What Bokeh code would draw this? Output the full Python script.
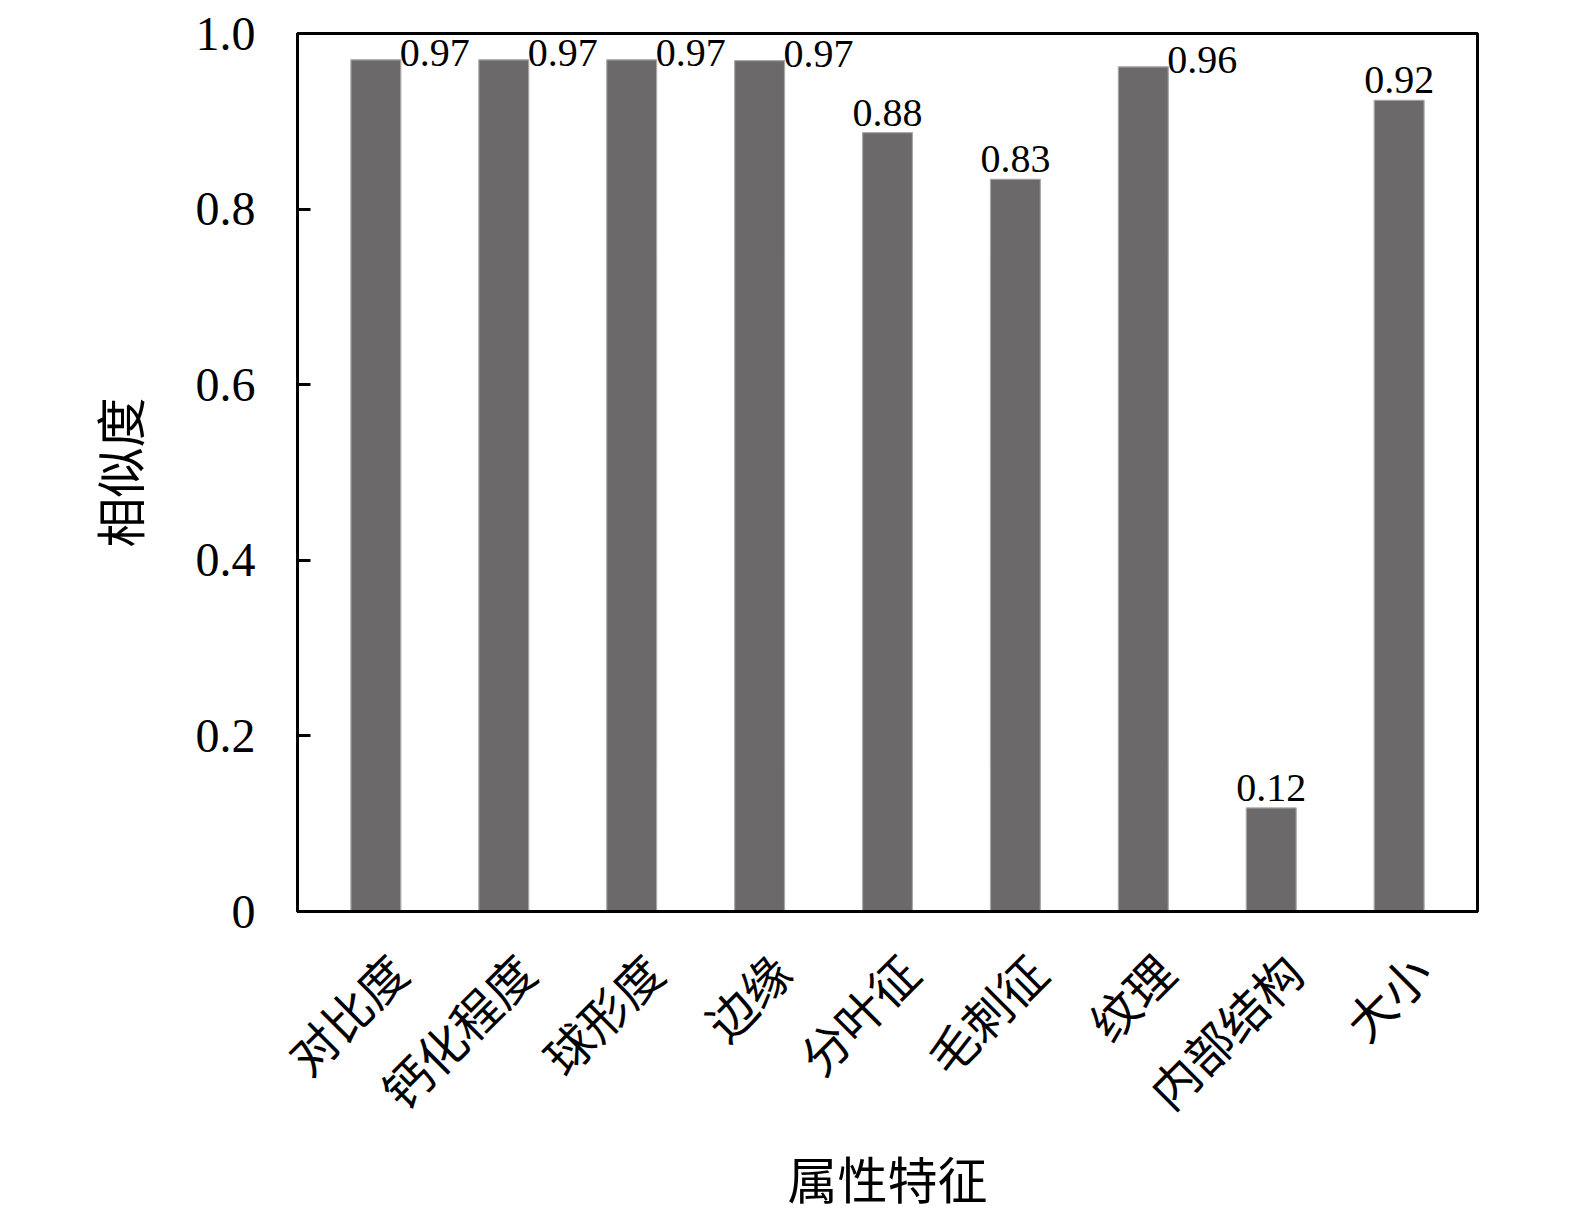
# Similarity per attribute feature, bar chart with value labels

import math

from bokeh.plotting import figure
from bokeh.models import ColumnDataSource, FixedTicker, Range1d
from bokeh.embed import file_html
from bokeh.resources import INLINE
from bokeh.core.properties import value

# data
features = ['对比度', '钙化程度', '球形度', '边缘', '分叶征', '毛刺征', '纹理', '内部结构', '大小']
similarity = [0.970, 0.970, 0.970, 0.969, 0.887, 0.834, 0.962, 0.118, 0.924]
value_labels = ['0.97', '0.97', '0.97', '0.97', '0.88', '0.83', '0.96', '0.12', '0.92']
y_ticks = [0, 0.2, 0.4, 0.6, 0.8, 1.0]
y_tick_labels = ['0', '0.2', '0.4', '0.6', '0.8', '1.0']

# which labels sit beside the bar (right of its top) instead of above it
beside = [True, True, True, True, False, False, True, False, False]

NUM_FONT = 'Liberation Serif'
CJK_FONT = '"Liberation Serif", "Noto Sans CJK SC"'
PAD = 0.1125         # space left of the first / right of the last slot
LABEL_SHIFT = 0.19   # rotated category labels sit a bit right of the bar


def main():
    n = len(features)
    # one slot per category, bar in the middle of its slot
    xs = [i + 0.5 for i in range(n)]

    p = figure(
        x_range=Range1d(-PAD, n + PAD),
        y_range=(0, 1.0),
        frame_width=1180, frame_height=878,
        min_border_left=297, min_border_right=60,
        min_border_top=33, min_border_bottom=295,
        output_backend='svg', toolbar_location=None, tools='',
        x_axis_label='属性特征', y_axis_label='相似度',
    )

    source = ColumnDataSource({'x': xs, 'top': similarity})
    p.vbar(x='x', top='top', width=0.39, bottom=0, source=source,
           fill_color='#6b696a', line_color='#a8a8a8', line_width=1.2)

    # value labels
    side = ColumnDataSource({
        'x': [x for x, b in zip(xs, beside) if b],
        'y': [v for v, b in zip(similarity, beside) if b],
        't': [t for t, b in zip(value_labels, beside) if b],
    })
    above = ColumnDataSource({
        'x': [x for x, b in zip(xs, beside) if not b],
        'y': [v for v, b in zip(similarity, beside) if not b],
        't': [t for t, b in zip(value_labels, beside) if not b],
    })
    p.text(x='x', y='y', text='t', source=side, x_offset=24, y_offset=-7,
           text_align='left', text_baseline='middle',
           text_font=value(NUM_FONT), text_font_size='40px', text_color='black')
    p.text(x='x', y='y', text='t', source=above, y_offset=-20,
           text_align='center', text_baseline='middle',
           text_font=value(NUM_FONT), text_font_size='40px', text_color='black')

    p.xgrid.visible = False
    p.ygrid.visible = False
    p.outline_line_color = 'black'
    p.outline_line_width = 3
    p.outline_line_alpha = 1.0

    yax = p.yaxis[0]
    yax.ticker = FixedTicker(ticks=y_ticks)
    yax.major_label_overrides = dict(zip(y_ticks, y_tick_labels))
    yax.major_tick_in = 13
    yax.major_tick_out = 0
    yax.minor_tick_in = 0
    yax.minor_tick_out = 0
    yax.major_tick_line_width = 3
    yax.major_tick_line_color = 'black'
    yax.axis_line_width = 3
    yax.axis_line_color = 'black'
    yax.major_label_standoff = 42
    yax.major_label_text_font = NUM_FONT
    yax.major_label_text_font_size = '48px'
    yax.major_label_text_color = 'black'
    yax.axis_label_standoff = 42
    yax.axis_label_text_font = CJK_FONT
    yax.axis_label_text_font_size = '50px'
    yax.axis_label_text_font_style = 'normal'
    yax.axis_label_text_color = 'black'

    # category names on ticks moved a little right, so the rotated labels
    # end to the right of each bar like in the original
    label_ticks = [round(x + LABEL_SHIFT, 2) for x in xs]
    xax = p.xaxis[0]
    xax.ticker = FixedTicker(ticks=label_ticks)
    xax.major_label_overrides = dict(zip(label_ticks, features))
    xax.major_tick_line_color = None
    xax.minor_tick_line_color = None
    xax.axis_line_width = 3
    xax.axis_line_color = 'black'
    xax.major_label_orientation = math.pi / 4
    xax.major_label_standoff = 48
    xax.major_label_text_font = CJK_FONT
    xax.major_label_text_font_size = '48px'
    xax.major_label_text_color = 'black'
    xax.axis_label_standoff = 12
    xax.axis_label_text_font = CJK_FONT
    xax.axis_label_text_font_size = '50px'
    xax.axis_label_text_font_style = 'normal'
    xax.axis_label_text_color = 'black'

    with open('out.html', 'w') as f:
        f.write(file_html(p, INLINE))


if __name__ == '__main__':
    main()
